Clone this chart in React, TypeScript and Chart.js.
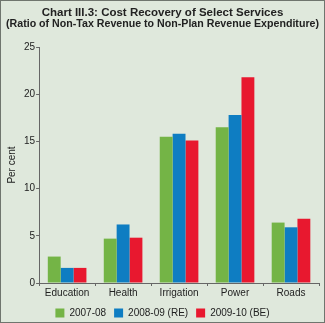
import React, { useEffect, useRef } from "react";
import { Chart, registerables } from "chart.js";

Chart.register(...registerables);

const categories = ["Education", "Health", "Irrigation", "Power", "Roads"];
const series2007 = [2.8, 4.7, 15.5, 16.5, 6.4];
const series2008 = [1.6, 6.2, 15.8, 17.8, 5.9];
const series2009 = [1.6, 4.8, 15.1, 21.8, 6.8];
const seriesLabels = ["2007-08", "2008-09 (RE)", "2009-10 (BE)"];
const titleLines = [
  "Chart III.3: Cost Recovery of Select Services",
  "(Ratio of Non-Tax Revenue to Non-Plan Revenue Expenditure)",
];

export default function App() {
  const ref = useRef<HTMLCanvasElement | null>(null);
  useEffect(() => {
    document.body.style.margin = "0";
    const ctx = ref.current!;
    const font = "'Liberation Sans', Arial, Helvetica, sans-serif";
    const chart = new Chart(ctx, {
      type: "bar",
      data: {
        labels: categories,
        datasets: [
          { label: seriesLabels[0], data: series2007, backgroundColor: "#74b446" },
          { label: seriesLabels[1], data: series2008, backgroundColor: "#0e7dc2" },
          { label: seriesLabels[2], data: series2009, backgroundColor: "#e8182f" },
        ],
      },
      options: {
        animation: false,
        responsive: false,
        maintainAspectRatio: false,
        datasets: { bar: { barPercentage: 1, categoryPercentage: 0.69 } },
        layout: { padding: { left: 5, right: 5, top: 4, bottom: -6 } },
        plugins: {
          title: {
            display: true,
            text: titleLines,
            color: "#222",
            font: { family: font, size: 11.5, weight: "bold", lineHeight: 1.0 },
            padding: { top: 2, bottom: 17 },
          },
          legend: {
            position: "bottom",
            labels: {
              color: "#222",
              font: { family: font, size: 10 },
              boxWidth: 9,
              boxHeight: 9,
              padding: 8,
            },
          },
          tooltip: { enabled: false },
        },
        scales: {
          x: {
            grid: { display: true, drawOnChartArea: false, drawTicks: true, tickLength: 3, color: "#666", offset: true },
            border: { display: true, color: "#666" },
            ticks: { color: "#222", font: { family: font, size: 10 }, padding: 1 },
          },
          y: {
            min: 0,
            max: 25,
            ticks: { stepSize: 5, color: "#222", font: { family: font, size: 10 }, padding: 1 },
            grid: { display: true, drawOnChartArea: false, drawTicks: true, tickLength: 3, color: "#666" },
            border: { display: true, color: "#666" },
            title: { display: true, text: "Per cent", color: "#222", font: { family: font, size: 10 }, padding: { top: 0, bottom: 5 } },
          },
        },
      },
    });
    return () => chart.destroy();
  }, []);
  return (
    <div
      style={{
        width: 325,
        height: 323,
        background: "#dfe8dc",
        border: "1px solid #6f756e",
        boxSizing: "border-box",
        position: "relative",
      }}
    >
      <canvas ref={ref} width={323} height={321} style={{ display: "block" }} />
    </div>
  );
}
